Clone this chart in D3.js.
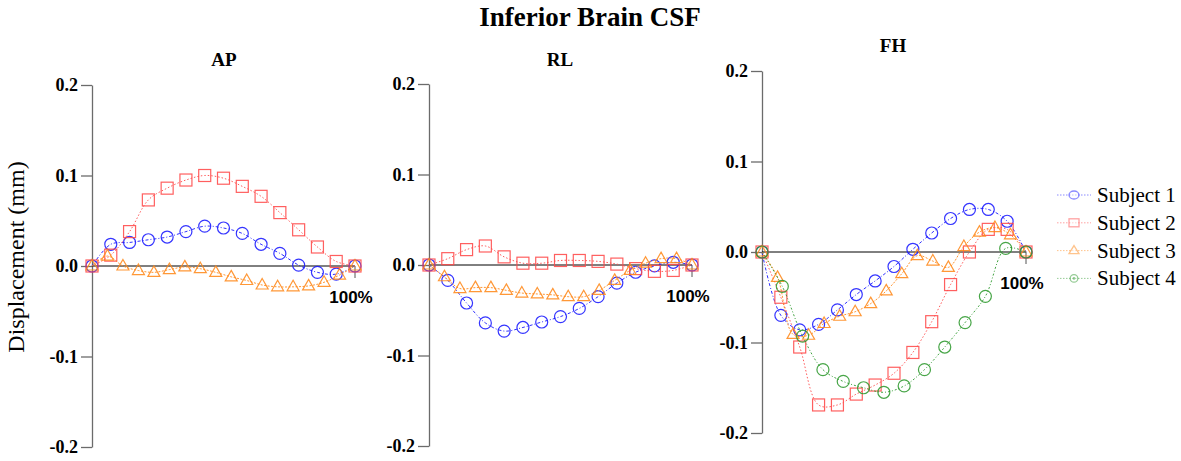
<!DOCTYPE html>
<html>
<head>
<meta charset="utf-8">
<script src="https://cdn.jsdelivr.net/npm/d3@7/dist/d3.min.js"></script>
<style>
  html, body { margin: 0; padding: 0; background: #fff; }
  svg { display: block; }
</style>
</head>
<body>
<svg id="chart" width="1181" height="461"></svg>
<script>
// Displacement (mm) over the cardiac cycle, 0% .. 100%
const subjects = ["Subject 1", "Subject 2", "Subject 3", "Subject 4"];
const yTicks = [-0.2, -0.1, 0, 0.1, 0.2];
const endLabel = "100%";

const apSubject1 = [0, 0.024, 0.026, 0.029, 0.032, 0.038, 0.044, 0.042, 0.036, 0.024, 0.014, 0.001, -0.007, -0.009, 0];
const apSubject2 = [0, 0.012, 0.038, 0.073, 0.086, 0.095, 0.100, 0.097, 0.088, 0.077, 0.059, 0.040, 0.021, 0.005, 0];
const apSubject3 = [0, 0.011, 0.000, -0.005, -0.007, -0.004, -0.001, -0.003, -0.007, -0.012, -0.016, -0.021, -0.023, -0.023, -0.022, -0.018, -0.010, 0];

const rlSubject1 = [0, -0.017, -0.042, -0.064, -0.073, -0.069, -0.063, -0.057, -0.048, -0.035, -0.020, -0.008, -0.001, 0.003, 0];
const rlSubject2 = [0, 0.007, 0.017, 0.021, 0.009, 0.002, 0.002, 0.005, 0.005, 0.004, 0.001, -0.004, -0.007, -0.006, 0];
const rlSubject3 = [0, -0.013, -0.026, -0.025, -0.025, -0.028, -0.031, -0.032, -0.033, -0.035, -0.035, -0.028, -0.017, -0.006, 0.002, 0.007, 0.007, 0];

const fhSubject1 = [0, -0.070, -0.086, -0.080, -0.064, -0.047, -0.032, -0.016, 0.003, 0.021, 0.037, 0.047, 0.047, 0.034, 0];
const fhSubject2 = [0, -0.050, -0.105, -0.169, -0.169, -0.157, -0.147, -0.134, -0.111, -0.077, -0.036, 0.000, 0.025, 0.025, 0];
const fhSubject3 = [0, -0.028, -0.091, -0.092, -0.079, -0.071, -0.066, -0.057, -0.043, -0.024, -0.004, -0.010, -0.017, 0.006, 0.022, 0.027, 0.019, 0];
const fhSubject4 = [0, -0.038, -0.093, -0.130, -0.143, -0.150, -0.155, -0.148, -0.130, -0.105, -0.078, -0.049, 0.004, 0];

const panels = [
  { title: "AP", series: [apSubject1, apSubject2, apSubject3] },
  { title: "RL", series: [rlSubject1, rlSubject2, rlSubject3] },
  { title: "FH", series: [fhSubject1, fhSubject2, fhSubject3, fhSubject4] }
];

// Panel frames on the page
const frames = [
  { x0: 92,  x1: 355,  yTop: 85, yBot: 447, titleX: 224, titleY: 66 },
  { x0: 429, x1: 692,  yTop: 84, yBot: 446, titleX: 560, titleY: 66 },
  { x0: 762, x1: 1026, yTop: 71, yBot: 433, titleX: 893, titleY: 52 }
];

// Per-subject styling
const styles = [
  { color: "#1a1aff", marker: "circle",   dash: "3,2,1,2" },
  { color: "#ff4a4a", marker: "square",   dash: "1.5,2" },
  { color: "#ff8a1c", marker: "triangle", dash: "2,1.5" },
  { color: "#2f9a2f", marker: "circle",   dash: "2,2,1,2" }
];

const svg = d3.select("#chart");
const serif = "'Liberation Serif', 'Times New Roman', serif";
const sans = "'Liberation Sans', Arial, sans-serif";

// Main title
svg.append("text")
  .attr("x", 590).attr("y", 26)
  .attr("text-anchor", "middle")
  .style("font-family", serif).style("font-weight", "bold").style("font-size", "27px")
  .text("Inferior Brain CSF");

// Shared y-axis label
svg.append("text")
  .attr("transform", "translate(24,257) rotate(-90)")
  .attr("text-anchor", "middle")
  .style("font-family", serif).style("font-size", "24px")
  .text("Displacement (mm)");

function drawMarker(g, type, color, x, y) {
  if (type === "circle") {
    g.append("circle").attr("cx", x).attr("cy", y).attr("r", 6)
      .attr("fill", "none").attr("stroke", color).attr("stroke-width", 1.2);
  } else if (type === "square") {
    g.append("rect").attr("x", x - 6).attr("y", y - 6).attr("width", 12).attr("height", 12)
      .attr("fill", "none").attr("stroke", color).attr("stroke-width", 1.2);
  } else {
    g.append("path").attr("d", `M${x},${y - 6.5}L${x + 6},${y + 4}L${x - 6},${y + 4}Z`)
      .attr("fill", "none").attr("stroke", color).attr("stroke-width", 1.2);
  }
}

panels.forEach((panel, pi) => {
  const f = frames[pi];
  const g = svg.append("g");
  const x = d3.scaleLinear().domain([0, 1]).range([f.x0, f.x1]);
  const y = d3.scaleLinear().domain([-0.2, 0.2]).range([f.yBot, f.yTop]);

  // Panel title
  g.append("text")
    .attr("x", f.titleX).attr("y", f.titleY)
    .attr("text-anchor", "middle")
    .style("font-family", serif).style("font-weight", "bold").style("font-size", "19px")
    .text(panel.title);

  // Left axis
  const axis = d3.axisLeft(y).tickValues(yTicks).tickSize(11).tickSizeOuter(0)
    .tickPadding(3).tickFormat(d => d.toFixed(1));
  const ag = g.append("g").attr("transform", `translate(${f.x0},0)`).call(axis);
  ag.select(".domain").attr("stroke", "#6b6b6b").attr("stroke-width", 1.3);
  ag.selectAll(".tick line").attr("stroke", "#6b6b6b").attr("stroke-width", 1.3);
  ag.selectAll(".tick text")
    .style("font-family", serif).style("font-weight", "bold").style("font-size", "18px")
    .attr("fill", "#000");

  // Zero baseline and end-of-cycle tick
  g.append("line")
    .attr("x1", x(0)).attr("x2", x(1)).attr("y1", y(0)).attr("y2", y(0))
    .attr("stroke", "#000").attr("stroke-width", 1);
  g.append("line")
    .attr("x1", x(1)).attr("x2", x(1)).attr("y1", y(0)).attr("y2", y(0) + 12)
    .attr("stroke", "#555").attr("stroke-width", 1);
  g.append("text")
    .attr("x", x(1) - 4).attr("y", y(0) + 37)
    .attr("text-anchor", "middle")
    .style("font-family", sans).style("font-weight", "bold").style("font-size", "17px")
    .text(endLabel);

  // Series
  panel.series.forEach((vals, si) => {
    const st = styles[si];
    const n = vals.length;
    const pts = vals.map((v, i) => [x(i / (n - 1)), y(v)]);
    const line = d3.line().curve(d3.curveCatmullRom.alpha(0.5));
    g.append("path").attr("d", line(pts))
      .attr("fill", "none").attr("stroke", st.color).attr("stroke-width", 1)
      .attr("stroke-dasharray", st.dash).attr("opacity", 0.9);
    const mg = g.append("g").attr("opacity", 0.88);
    pts.forEach(p => drawMarker(mg, st.marker, st.color, p[0], p[1]));
  });
});

// Legend
const legend = svg.append("g");
subjects.forEach((name, i) => {
  const st = styles[i];
  const cy = 195 + i * 27.8;
  legend.append("line")
    .attr("x1", 1057).attr("x2", 1091).attr("y1", cy).attr("y2", cy)
    .attr("stroke", st.color).attr("stroke-width", 1).attr("stroke-dasharray", "1.5,1.5")
    .attr("opacity", 0.5);
  const mg = legend.append("g").attr("opacity", 0.5);
  if (i === 0) {
    mg.append("ellipse").attr("cx", 1074).attr("cy", cy).attr("rx", 5).attr("ry", 4)
      .attr("fill", "#fff").attr("stroke", st.color).attr("stroke-width", 1.3);
  } else if (i === 1) {
    mg.append("rect").attr("x", 1069).attr("y", cy - 4).attr("width", 10).attr("height", 8)
      .attr("fill", "#fff").attr("stroke", st.color).attr("stroke-width", 1.3);
  } else if (i === 2) {
    mg.append("path").attr("d", `M1074,${cy - 5}L1079,${cy + 3}L1069,${cy + 3}Z`)
      .attr("fill", "#fff").attr("stroke", st.color).attr("stroke-width", 1.3);
  } else {
    mg.append("circle").attr("cx", 1074).attr("cy", cy).attr("r", 3.8)
      .attr("fill", "#fff").attr("stroke", st.color).attr("stroke-width", 1.3);
    mg.append("circle").attr("cx", 1074).attr("cy", cy).attr("r", 1.3)
      .attr("fill", st.color);
  }
  legend.append("text")
    .attr("x", 1097).attr("y", cy + 7)
    .style("font-family", serif).style("font-size", "21px")
    .text(name);
});
</script>
</body>
</html>
